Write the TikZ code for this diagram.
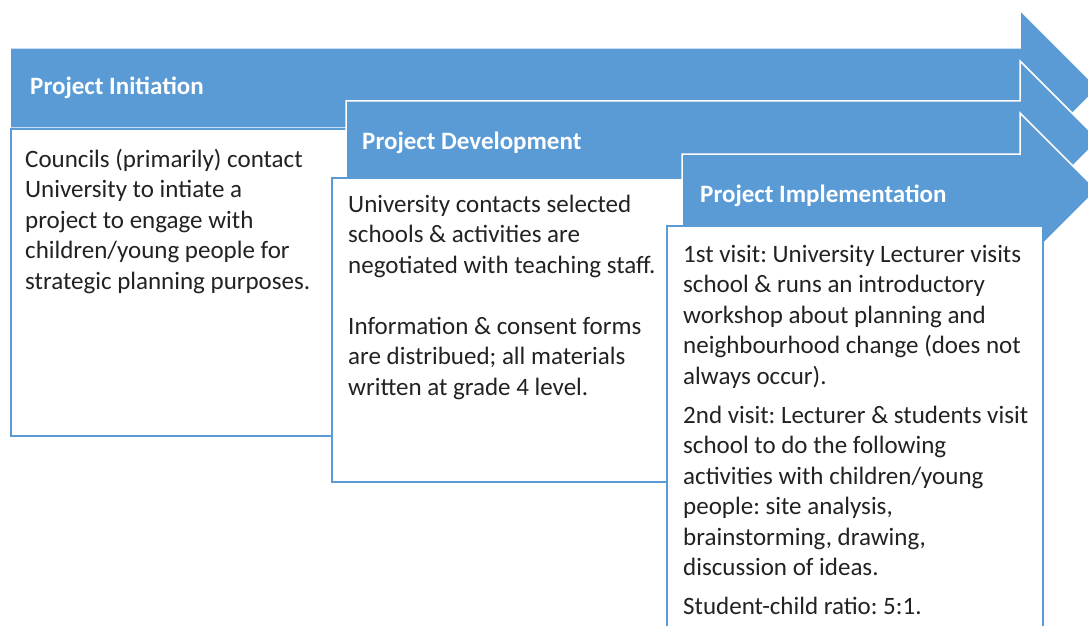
\documentclass[tikz,border=0pt]{standalone}
\usepackage{fontspec}
\setmainfont{Carlito}
\frenchspacing
\definecolor{ablue}{HTML}{5B9BD5}
\definecolor{txt}{HTML}{222222}
\tikzset{
  arrowshape/.style={fill=ablue, draw=white, line width=1.5pt, line join=miter},
  textbox/.style={fill=white, draw=ablue, line width=2pt},
  header/.style={anchor=base west, inner sep=0pt, text=white, font=\fontsize{25}{30.5}\selectfont\bfseries},
  bodytext/.style={anchor=north west, inner sep=0pt, align=left, text=txt, font=\fontsize{25}{30.5}\selectfont\frenchspacing},
}
\begin{document}
\begin{tikzpicture}[x=1pt,y=-1pt]
\useasboundingbox (0,0) rectangle (1088,626);
\clip (0,0) rectangle (1088,626);
% Arrow 1 and box 1
\draw[arrowshape] (10,48) -- (1020,48) -- (1020,10) -- (1098,88) -- (1020,166) -- (1020,128) -- (10,128) -- cycle;
\draw[textbox] (11,129) rectangle (600,436);
% Arrow 2 and box 2
\draw[arrowshape] (346,101) -- (1020,101) -- (1020,61) -- (1099,140) -- (1020,219) -- (1020,178) -- (346,178) -- cycle;
\draw[textbox] (332,178) rectangle (900,482);
% Arrow 3 and box 3
\draw[arrowshape] (682,154) -- (1020,154) -- (1020,113) -- (1097,190) -- (1020,267) -- (1020,226) -- (682,226) -- cycle;
\draw[textbox] (667,226) rectangle (1043,660);
% headers
\node[header] (h1) at (30,95) {Project Initiation};
\node[header] (h2) at (362,149) {Project Development};
\node[header] (h3) at (700,202) {Project Implementation};
% body texts
\node[bodytext] (t1) at (25,145.65) {\strut Councils (primarily) contact\\University to intiate a\\project to engage with\\children/young people for\\strategic planning purposes.};
\node[bodytext] (t2) at (348,190.65) {\strut University contacts selected\\schools \& activities are\\negotiated with teaching staff.\\[30.5pt]Information \& consent forms\\are distribued; all materials\\written at grade 4 level.};
\node[bodytext] (t3) at (683,240.65) {\strut 1st visit: University Lecturer visits\\school \& runs an introductory\\workshop about planning and\\neighbourhood change (does not\\always occur).\\[8.5pt]2nd visit: Lecturer \& students visit\\school to do the following\\activities with children/young\\people: site analysis,\\brainstorming, drawing,\\discussion of ideas.\\[8pt]Student-child ratio: 5:1.};
\end{tikzpicture}
\end{document}
